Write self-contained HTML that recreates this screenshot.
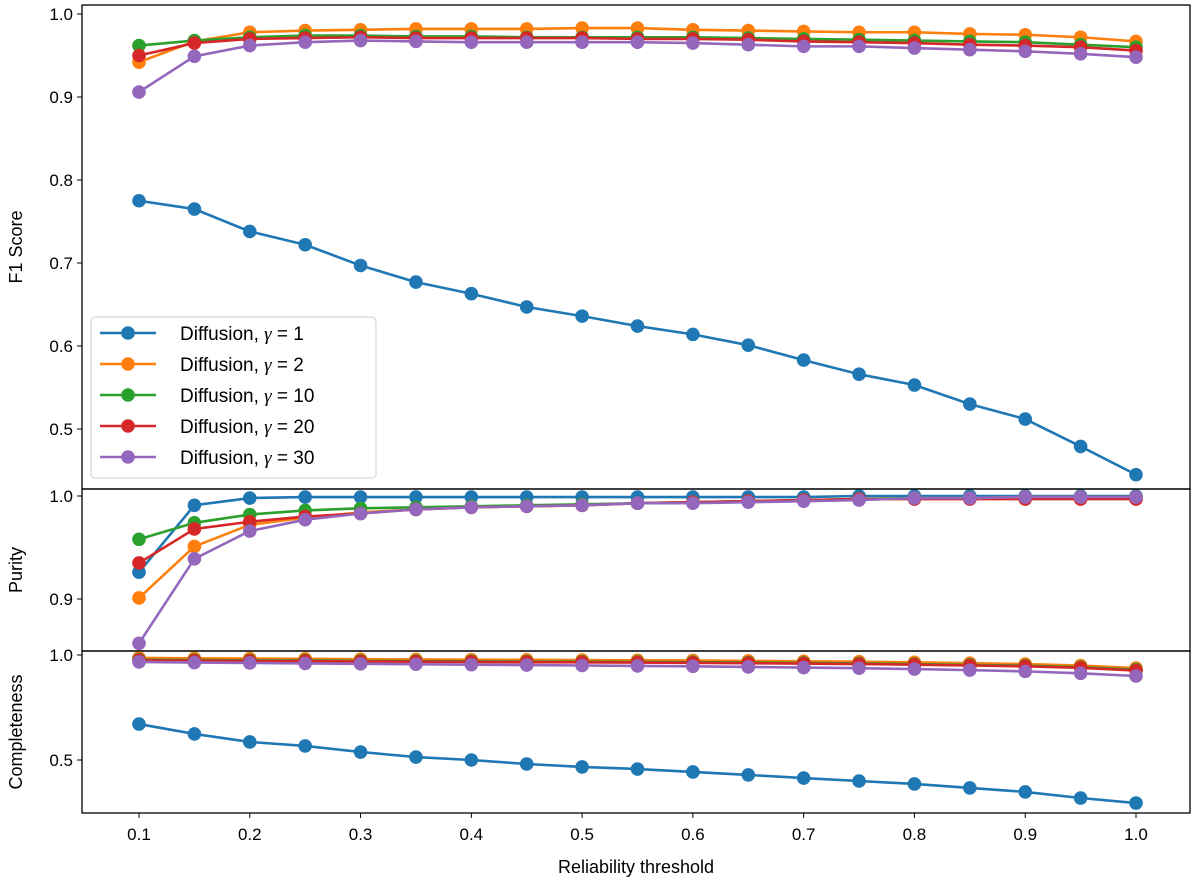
<!DOCTYPE html>
<html><head><meta charset="utf-8"><style>
body{margin:0;background:#fff;}
svg{display:block;font-family:"Liberation Sans","DejaVu Sans",sans-serif;}
</style></head><body>
<svg id="chart" width="1200" height="886"></svg>
<script>
const xs=[0.1,0.15,0.2,0.25,0.3,0.35,0.4,0.45,0.5,0.55,0.6,0.65,0.7,0.75,0.8,0.85,0.9,0.95,1.0];
const seriesNames=["γ = 1","γ = 2","γ = 10","γ = 20","γ = 30"];
const colors=["#1f77b4","#ff7f0e","#2ca02c","#d62728","#9467bd"];
const f1Blue=[0.775,0.765,0.738,0.722,0.697,0.677,0.663,0.647,0.636,0.624,0.614,0.601,0.583,0.566,0.553,0.530,0.512,0.479,0.445];
const f1Orange=[0.942,0.967,0.978,0.980,0.981,0.982,0.982,0.982,0.983,0.983,0.981,0.980,0.979,0.978,0.978,0.976,0.975,0.972,0.967];
const f1Green=[0.962,0.968,0.972,0.974,0.974,0.973,0.973,0.972,0.972,0.972,0.972,0.971,0.970,0.969,0.968,0.967,0.966,0.963,0.960];
const f1Red=[0.950,0.965,0.970,0.971,0.972,0.971,0.971,0.971,0.971,0.970,0.970,0.969,0.967,0.966,0.965,0.963,0.962,0.960,0.956];
const f1Purple=[0.906,0.949,0.962,0.966,0.968,0.967,0.966,0.966,0.966,0.966,0.965,0.963,0.961,0.961,0.959,0.957,0.955,0.952,0.948];
const purBlue=[0.926,0.991,0.998,0.999,0.999,0.999,0.999,0.999,0.999,0.999,0.999,0.999,0.999,1.0,1.0,1.0,1.0,1.0,1.0];
const purOrange=[0.901,0.951,0.972,0.979,0.984,0.987,0.989,0.990,0.991,0.993,0.994,0.995,0.996,0.997,0.998,0.998,0.999,0.999,0.999];
const purGreen=[0.958,0.974,0.982,0.986,0.988,0.989,0.990,0.991,0.992,0.993,0.994,0.995,0.996,0.997,0.998,0.998,0.998,0.999,0.999];
const purRed=[0.935,0.968,0.975,0.980,0.983,0.987,0.989,0.990,0.991,0.993,0.994,0.995,0.996,0.997,0.997,0.997,0.997,0.997,0.997];
const purPurple=[0.857,0.939,0.966,0.977,0.983,0.987,0.989,0.990,0.991,0.993,0.993,0.994,0.995,0.996,0.998,0.998,0.999,0.999,0.999];
const cmpBlue=[0.671,0.624,0.586,0.567,0.538,0.514,0.500,0.481,0.467,0.457,0.443,0.429,0.414,0.400,0.386,0.367,0.348,0.319,0.295];
const cmpOrange=[0.986,0.984,0.983,0.982,0.980,0.979,0.978,0.977,0.976,0.975,0.974,0.972,0.970,0.968,0.965,0.961,0.957,0.950,0.938];
const cmpGreen=[0.978,0.976,0.975,0.974,0.972,0.971,0.970,0.969,0.968,0.967,0.966,0.964,0.962,0.960,0.957,0.953,0.949,0.942,0.930];
const cmpRed=[0.975,0.973,0.972,0.971,0.969,0.968,0.967,0.966,0.965,0.964,0.963,0.961,0.959,0.957,0.954,0.950,0.946,0.939,0.926];
const cmpPurple=[0.967,0.964,0.962,0.960,0.958,0.956,0.954,0.952,0.950,0.948,0.946,0.943,0.940,0.937,0.933,0.928,0.922,0.913,0.900];
const xTicks=[0.1,0.2,0.3,0.4,0.5,0.6,0.7,0.8,0.9,1.0];
const f1Ticks=[0.5,0.6,0.7,0.8,0.9,1.0];
const purTicks=[0.9,1.0];
const cmpTicks=[0.5,1.0];

const NS="http://www.w3.org/2000/svg";
const svg=document.getElementById('chart');
function el(tag,attrs,parent){const e=document.createElementNS(NS,tag);for(const k in attrs)e.setAttribute(k,attrs[k]);(parent||svg).appendChild(e);return e;}
const L=82,R=1190;
const X=v=>139+(v-0.1)*(1136-139)/0.9;
const panels=[
 {name:'f1',top:5,bot:489,Y:v=>14+(1-v)*830,ticks:f1Ticks,label:'F1 Score',series:[f1Blue,f1Orange,f1Green,f1Red,f1Purple]},
 {name:'purity',top:489,bot:651,Y:v=>496+(1-v)*1030,ticks:purTicks,label:'Purity',series:[purBlue,purOrange,purGreen,purRed,purPurple]},
 {name:'completeness',top:651,bot:813,Y:v=>655+(1-v)*210,ticks:cmpTicks,label:'Completeness',series:[cmpBlue,cmpOrange,cmpGreen,cmpRed,cmpPurple]}
];
panels.forEach(p=>{
 const g=el('g',{});
 
 
 const cid='clip-'+p.name;
 const cp=el('clipPath',{id:cid},g);el('rect',{x:L,y:p.top,width:R-L,height:p.bot-p.top},cp);
 const data=el('g',{'clip-path':'url(#'+cid+')'},g);
 p.series.forEach((s,i)=>{
  const sg=el('g',{},data);
  
  
  el('polyline',{points:s.map((v,j)=>X(xs[j])+','+p.Y(v)).join(' '),fill:'none',stroke:colors[i],'stroke-width':2.6},sg);
  s.forEach((v,j)=>{const c=el('circle',{cx:X(xs[j]),cy:p.Y(v),r:6.8,fill:colors[i]},sg);
   
   });
 });
 el('rect',{x:L,y:p.top,width:R-L,height:p.bot-p.top,fill:'none',stroke:'#000','stroke-width':1.3},g);
 p.ticks.forEach(t=>{const y=p.Y(t);
  el('line',{x1:L-5,x2:L,y1:y,y2:y,stroke:'#000','stroke-width':1},g);
  const tx=el('text',{x:L-9,y:y+6,'text-anchor':'end','font-size':17},g);tx.textContent=t.toFixed(1);
  
  
 });
 const cy=(p.top+p.bot)/2;
 const yl=el('text',{x:0,y:0,transform:`translate(22,${cy}) rotate(-90)`,'text-anchor':'middle','font-size':18},g);
 yl.textContent=p.label;
 
 
});
xTicks.forEach(t=>{const x=X(t);
 el('line',{x1:x,x2:x,y1:813,y2:818,stroke:'#000'});
 const tx=el('text',{x:x,y:840,'text-anchor':'middle','font-size':17});tx.textContent=t.toFixed(1);
 
 
});
const xl=el('text',{x:636,y:873,'text-anchor':'middle','font-size':18});xl.textContent='Reliability threshold';


const lg=el('g',{});


el('rect',{x:91,y:317,width:285,height:161,rx:4,fill:'#fff','fill-opacity':0.85,stroke:'#ccc'},lg);
seriesNames.forEach((n,i)=>{const y=333+i*31;
 const eg=el('g',{},lg);
 
 
 el('line',{x1:100,x2:156,y1:y,y2:y,stroke:colors[i],'stroke-width':2.6},eg);
 el('circle',{cx:128,cy:y,r:6.8,fill:colors[i]},eg);
 const t=el('text',{x:180,y:y+7,'font-size':19},eg);
 t.innerHTML='Diffusion, <tspan font-style="italic" font-family="Liberation Serif, serif">γ</tspan> = '+n.split('= ')[1];
});
</script>
</body></html>
